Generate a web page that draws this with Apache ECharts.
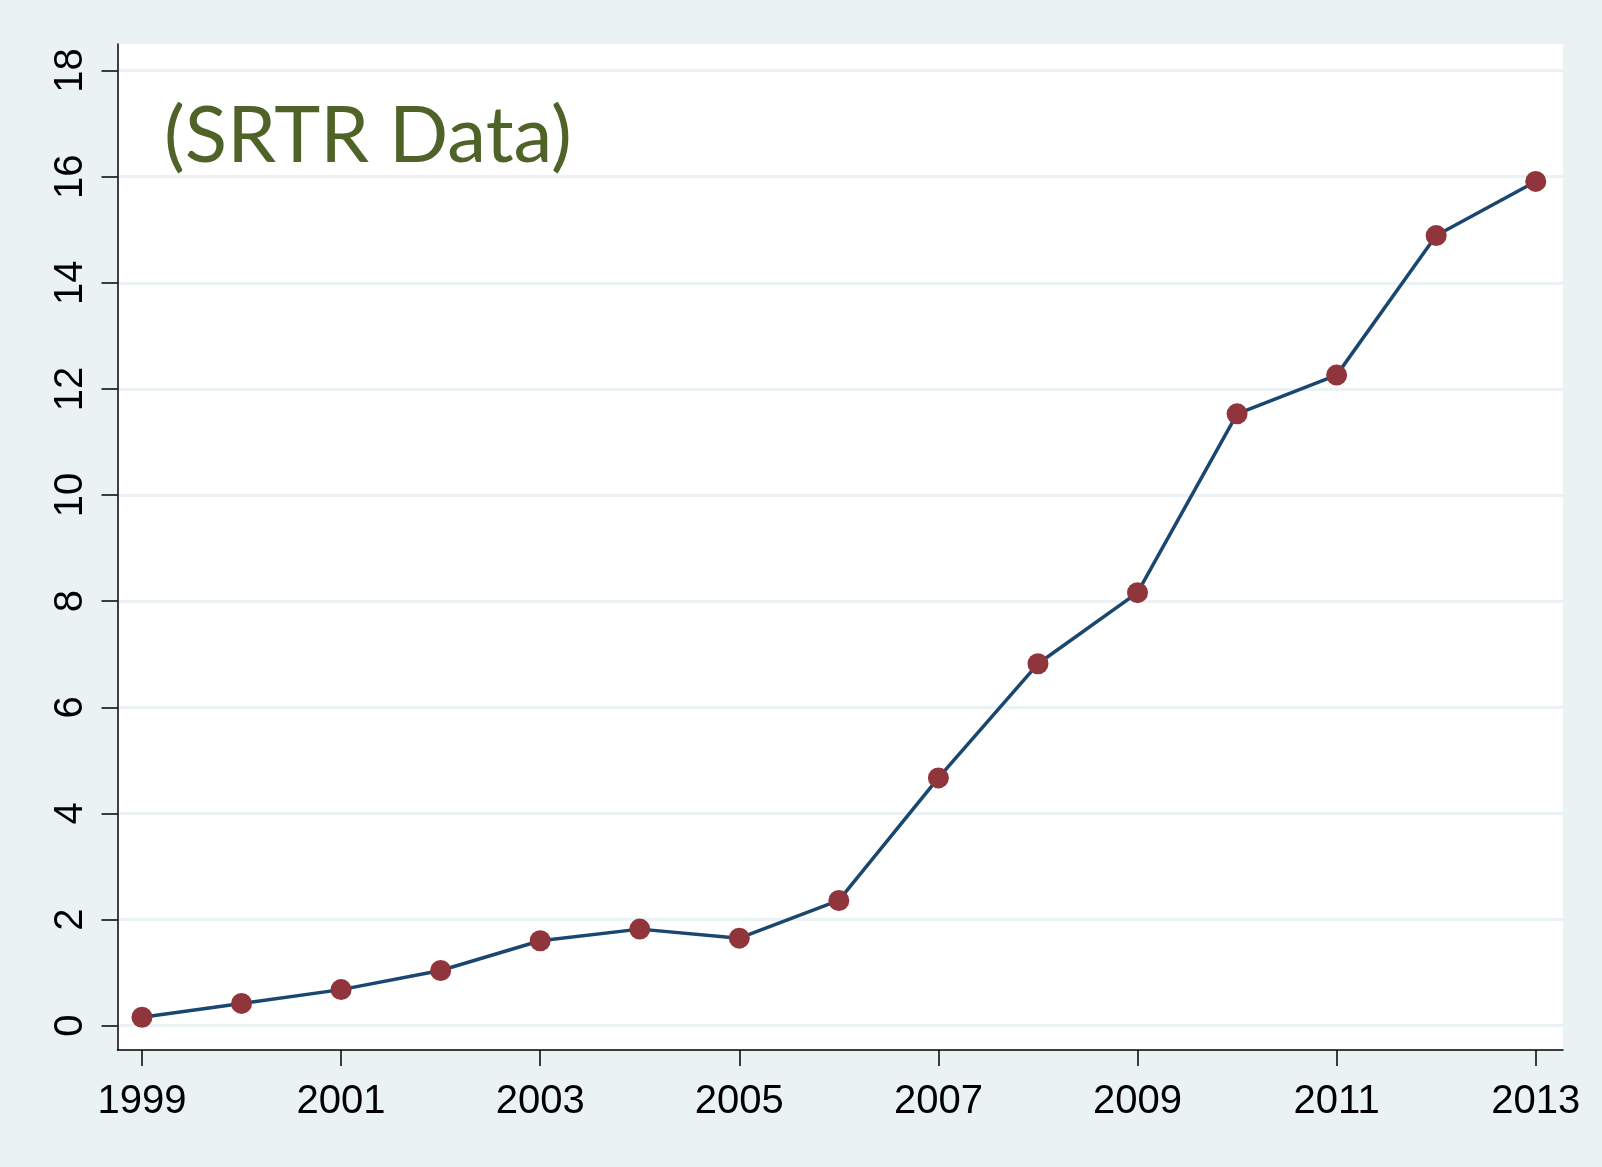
<!DOCTYPE html>
<html>
<head>
<meta charset="utf-8">
<script src="https://cdn.jsdelivr.net/npm/echarts@6/dist/echarts.min.js"></script>
<style>
html,body{margin:0;padding:0;background:#eaf2f3;}
#chart{width:1602px;height:1167px;}
</style>
</head>
<body>
<div id="chart"></div>
<script>
const years = [1999,2000,2001,2002,2003,2004,2005,2006,2007,2008,2009,2010,2011,2012,2013];
const values = [0.16,0.42,0.68,1.04,1.60,1.82,1.65,2.36,4.67,6.82,8.16,11.53,12.26,14.89,15.91];
const xTicks = [1999,2001,2003,2005,2007,2009,2011,2013];
const yTicks = [0,2,4,6,8,10,12,14,16,18];
const titleText = '(SRTR Data)';

const chart = echarts.init(document.getElementById('chart'));
chart.setOption({
  backgroundColor: '#eaf2f3',
  animation: false,
  grid: {left: 117.5, right: 39, top: 44, bottom: 117, show: true, backgroundColor: '#ffffff', borderWidth: 0},
  graphic: [{
    type: 'text', left: 164, top: 98,
    style: {text: titleText, fontFamily: 'Lato', fontSize: 78, fill: '#4f6228'}
  }],
  xAxis: {
    type: 'value', min: 1998.754, max: 2013.274,
    axisLine: {show: true, onZero: false, lineStyle: {color: '#000', width: 1.5}},
    axisTick: {show: true, length: 16, customValues: xTicks, lineStyle: {color: '#000', width: 1.5}},
    axisLabel: {customValues: xTicks, margin: 32, color: '#000', fontFamily: 'Liberation Sans', fontSize: 40, formatter: v => String(v)},
    splitLine: {show: false}
  },
  yAxis: {
    type: 'value', min: -0.458, max: 18.5,
    axisLine: {show: true, onZero: false, lineStyle: {color: '#000', width: 1.5}},
    axisTick: {show: true, length: 16, customValues: yTicks, lineStyle: {color: '#000', width: 1.5}},
    axisLabel: {customValues: yTicks, rotate: 90, margin: 27, color: '#000', fontFamily: 'Liberation Sans', fontSize: 40, formatter: v => String(v)},
    splitLine: {show: true, lineStyle: {color: '#eaf2f3', width: 3}}
  },
  series: [{
    type: 'line',
    data: years.map((y, i) => [y, values[i]]),
    symbol: 'circle', symbolSize: 21,
    lineStyle: {color: '#1a476f', width: 3.5},
    itemStyle: {color: '#90353b', borderWidth: 0},
    z: 3
  }]
});
</script>
</body>
</html>
